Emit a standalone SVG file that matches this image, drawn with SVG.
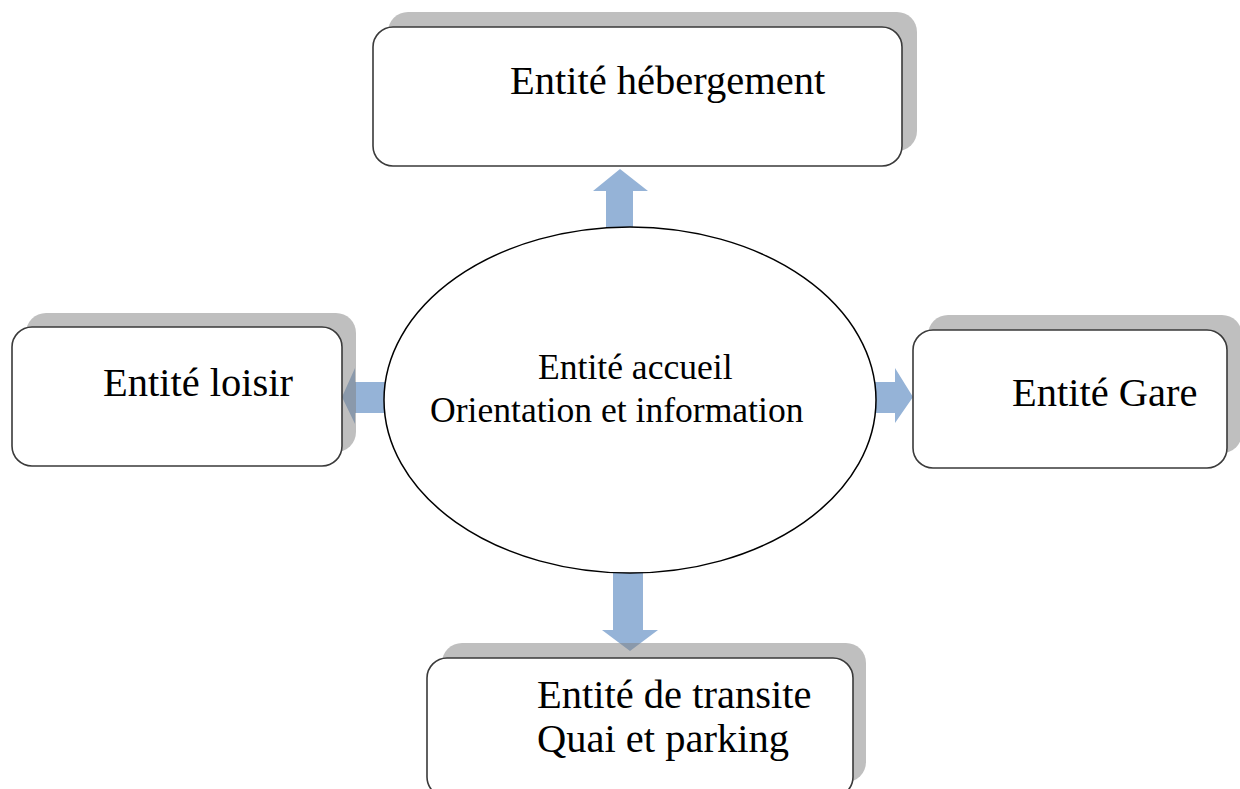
<svg xmlns="http://www.w3.org/2000/svg" width="1240" height="789" viewBox="0 0 1240 789">
<style>
.shadow{fill:#808080;fill-opacity:0.5}
.box{fill:#ffffff;stroke:#3a3a3a;stroke-width:1.6}
.t{font-family:"Liberation Serif","Times New Roman",serif;fill:#000;font-size:40.5px}
.te{font-family:"Liberation Serif","Times New Roman",serif;fill:#000;font-size:35.6px}
.arrow{fill:#95b3d7}
</style>
<rect width="1240" height="789" fill="#ffffff"/>
<g id="connectors">
<polygon class="arrow" points="606,228 606,191 593,191 620,169 648,191 633,191 633,228"/>
<polygon class="arrow" points="386,382 355,382 355,368 342,397 355,424 355,413 386,413"/>
<polygon class="arrow" points="875,382 895,382 895,368 913,397 895,423 895,413 875,413"/>
<polygon class="arrow" points="613,572 613,630 602,630 630,651 658,630 643,630 643,572"/>
</g>
<g id="center">
<ellipse cx="630" cy="400" rx="246" ry="173" fill="#ffffff" stroke="#000" stroke-width="1.5"/>
<text class="te" x="538" y="379">Entité accueil</text>
<text class="te" x="430" y="422">Orientation et information</text>
</g>
<g id="hebergement">
<rect class="shadow" x="388" y="12" width="529" height="139" rx="20"/>
<rect class="box" x="373" y="27" width="529" height="139" rx="20"/>
<text class="t" x="510" y="94">Entité hébergement</text>
</g>
<g id="loisir">
<rect class="shadow" x="26" y="313" width="330" height="139" rx="20"/>
<rect class="box" x="12" y="327" width="330" height="139" rx="20"/>
<text class="t" x="103" y="396">Entité loisir</text>
</g>
<g id="gare">
<rect class="shadow" x="928" y="315" width="314" height="138" rx="20"/>
<rect class="box" x="913" y="330" width="314" height="138" rx="20"/>
<text class="t" x="1012" y="406">Entité Gare</text>
</g>
<g id="transite">
<rect class="shadow" x="442" y="643" width="424" height="139" rx="20"/>
<rect class="box" x="427" y="658" width="426" height="139" rx="20"/>
<text class="t" x="537" y="708">Entité de transite</text>
<text class="t" x="537" y="752">Quai et parking</text>
</g>
</svg>
